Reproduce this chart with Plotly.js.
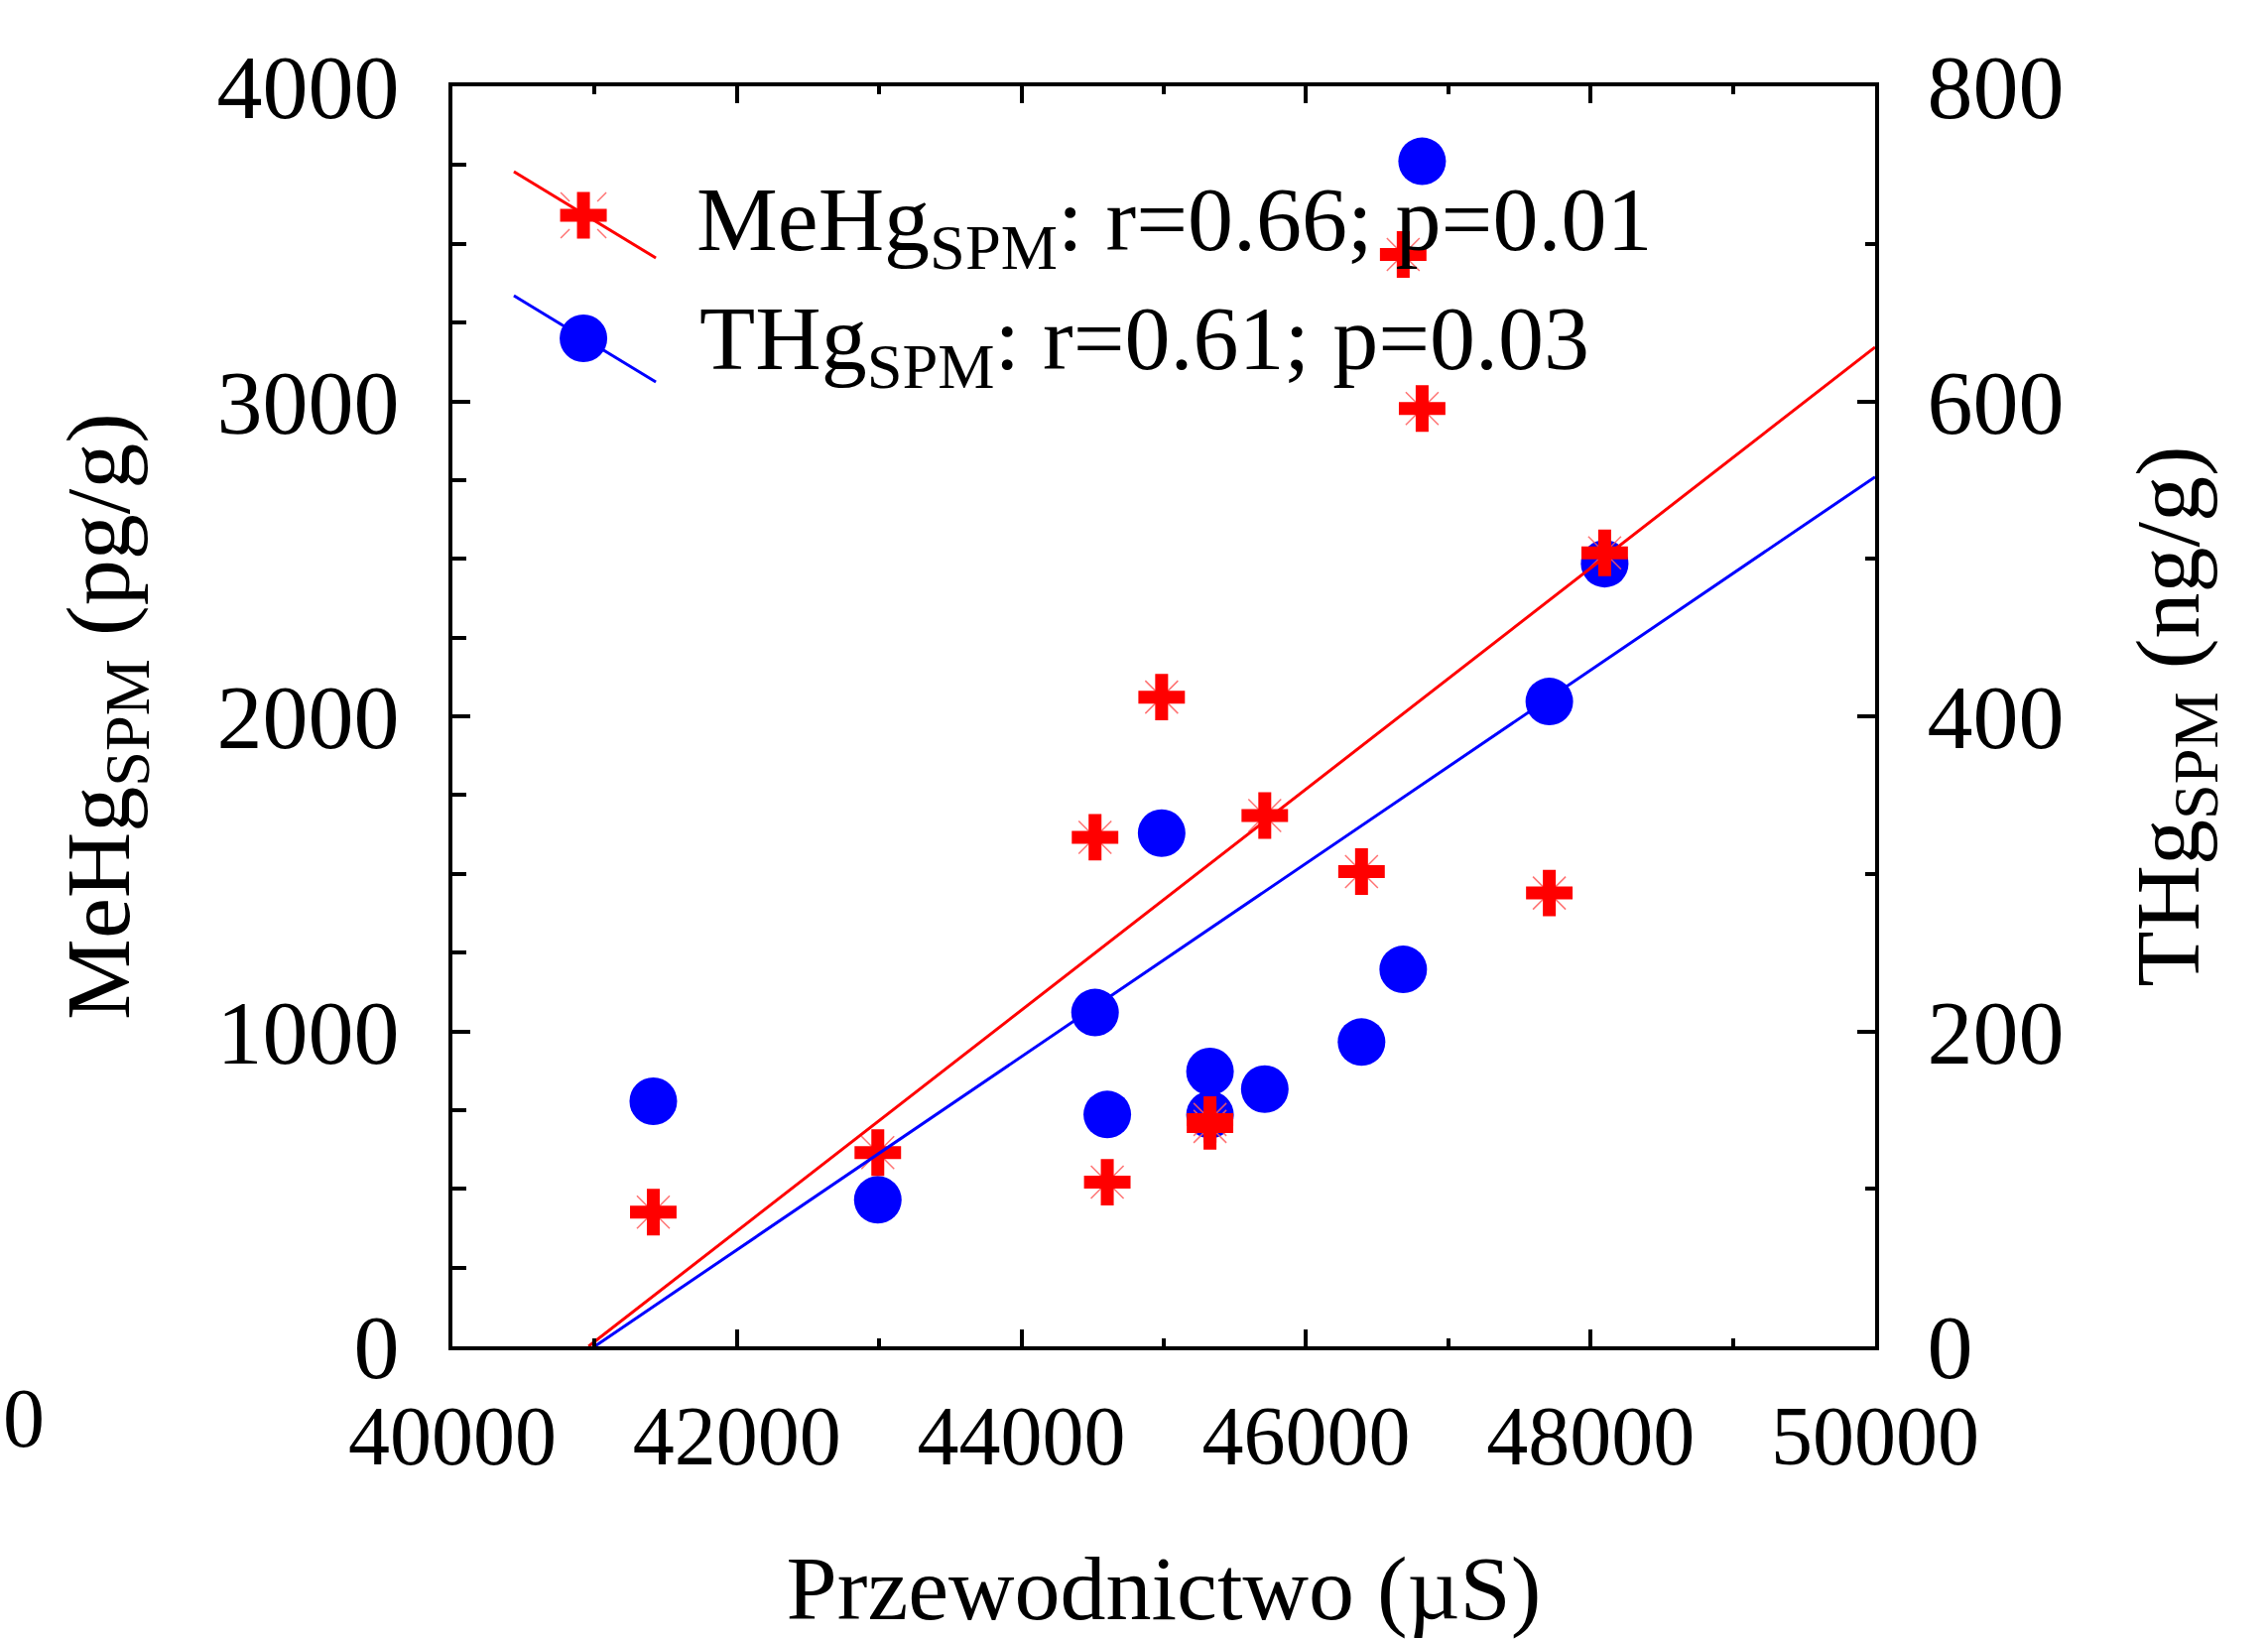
<!DOCTYPE html>
<html>
<head>
<meta charset="utf-8">
<script src="https://cdn.plot.ly/plotly-3.0.1.min.js"></script>
<style>html,body{margin:0;padding:0;background:#fff;}</style>
</head>
<body>
<div id="chart" style="width:2286px;height:1652px;"></div>
<script>
// Conductivity (µS) of each sample
const conductivity = [41412, 42990, 44517, 44603, 44985, 45325, 45325, 45710, 46390, 46683, 46816, 47710, 48099];
// MeHg in SPM (pg/g), left axis
const meHg = [426, 615, 1616, 521, 2061, 720, 698, 1685, 1507, 3466, 2977, 1439, 2519];
// THg in SPM (ng/g), right axis
const tHg = [155.6, 93, 211.9, 147.2, 325.8, 174.5, 147, 163.3, 193.2, 239.3, 752.4, 409.4, 496.9];
// Regression lines (end points)
const meHgFitX = [40957, 50000];
const meHgFitY = [0, 3172];
const tHgFitX = [41001, 50000];
const tHgFitY = [0, 552];
// Tick labels
const xTicks = [40000, 42000, 44000, 46000, 48000, 50000];
const leftTicks = [0, 1000, 2000, 3000, 4000];
const rightTicks = [0, 200, 400, 600, 800];
const legendTexts = ['MeHg<sub>SPM</sub>: r=0.66; p=0.01', 'THg<sub>SPM</sub>: r=0.61; p=0.03'];

const FONT = 'Liberation Serif, Times New Roman, serif';
const RED = '#ff0000', BLUE = '#0000ff', PALE = 'rgba(255,90,90,0.85)';

const traces = [
  { // THg circles (base layer)
    x: conductivity, y: tHg, xaxis: 'x', yaxis: 'y', type: 'scatter', mode: 'markers',
    marker: {symbol: 'circle', size: 48, color: BLUE, line: {width: 0}}, showlegend: false, hoverinfo: 'skip'
  },
  { // MeHg pale diagonal strokes
    x: conductivity, y: meHg, xaxis: 'x', yaxis: 'y2', type: 'scatter', mode: 'markers',
    marker: {symbol: 'x-thin', size: 33, color: PALE, line: {width: 1.5, color: PALE}}, showlegend: false, hoverinfo: 'skip'
  },
  { // MeHg crosses
    x: conductivity, y: meHg, xaxis: 'x', yaxis: 'y2', type: 'scatter', mode: 'markers',
    marker: {symbol: 'cross-thin', size: 33.5, color: RED, line: {width: 13, color: RED}}, showlegend: false, hoverinfo: 'skip'
  },
  { // THg fit line
    x: tHgFitX, y: tHgFitY, xaxis: 'x', yaxis: 'y3', type: 'scatter', mode: 'lines',
    line: {color: BLUE, width: 3}, showlegend: false, hoverinfo: 'skip'
  },
  { // MeHg fit line
    x: meHgFitX, y: meHgFitY, xaxis: 'x', yaxis: 'y4', type: 'scatter', mode: 'lines',
    line: {color: RED, width: 3}, showlegend: false, hoverinfo: 'skip'
  }
];

const xTickFont = {family: FONT, size: 84, color: '#000'};
const yTickFont = {family: FONT, size: 92, color: '#000'};
const titleFont = {family: FONT, size: 92, color: '#000'};

const layout = {
  width: 2286, height: 1652,
  paper_bgcolor: '#fff', plot_bgcolor: '#fff',
  margin: {l: 456, r: 396, t: 87, b: 295, pad: 0},
  showlegend: false,
  xaxis: {
    range: [40000, 50000], tickvals: xTicks, ticktext: xTicks.map(String),
    ticks: 'inside', ticklen: 17, tickwidth: 4, tickcolor: '#000',
    showline: true, linewidth: 4, linecolor: '#000', mirror: 'ticks',
    showgrid: false, zeroline: false,
    minor: {dtick: 1000, tick0: 40000, ticks: 'inside', ticklen: 8, tickwidth: 4, tickcolor: '#000', showgrid: false},
    tickfont: xTickFont, ticklabelstandoff: 14,
    title: {text: 'Przewodnictwo (µS)', font: titleFont, standoff: 130}
  },
  yaxis: {
    side: 'right', anchor: 'x', range: [0, 800], tickvals: rightTicks, ticktext: rightTicks.map(String),
    ticks: 'inside', ticklen: 18, tickwidth: 4, tickcolor: '#000',
    showline: true, linewidth: 4, linecolor: '#000',
    showgrid: false, zeroline: false,
    minor: {dtick: 100, tick0: 0, ticks: 'inside', ticklen: 10, tickwidth: 4, tickcolor: '#000', showgrid: false},
    tickfont: yTickFont, ticklabelstandoff: 30,
    title: {text: 'THg<sub>SPM</sub> (ng/g)', font: titleFont, standoff: 73}
  },
  yaxis2: {
    overlaying: 'y', side: 'left', anchor: 'x', range: [0, 4000], tickvals: leftTicks, ticktext: leftTicks.map(String),
    ticks: 'inside', ticklen: 18, tickwidth: 4, tickcolor: '#000',
    showline: true, linewidth: 4, linecolor: '#000',
    showgrid: false, zeroline: false,
    minor: {dtick: 250, tick0: 0, ticks: 'inside', ticklen: 14, tickwidth: 4, tickcolor: '#000', showgrid: false},
    tickfont: yTickFont, ticklabelstandoff: 31,
    title: {text: 'MeHg<sub>SPM</sub> (pg/g)', font: titleFont, standoff: 58}
  },
  yaxis3: {overlaying: 'y', range: [0, 800], visible: false},
  yaxis4: {overlaying: 'y', range: [0, 4000], visible: false},
  shapes: [
    // legend glyph: MeHg
    {type: 'line', xref: 'paper', yref: 'paper', x0: 0.0432, y0: 0.9323, x1: 0.143, y1: 0.8638, line: {color: RED, width: 3}},
    {type: 'path', xref: 'paper', yref: 'paper', xsizemode: 'pixel', ysizemode: 'pixel', xanchor: 0.0921, yanchor: 0.8976,
     path: 'M -23,-23 L -14,-14 M 14,14 L 23,23 M -23,23 L -14,14 M 14,-14 L 23,-23', line: {color: PALE, width: 1.5}},
    {type: 'path', xref: 'paper', yref: 'paper', xsizemode: 'pixel', ysizemode: 'pixel', xanchor: 0.0921, yanchor: 0.8976,
     path: 'M -6.5,-23.5 H 6.5 V -6.5 H 23.5 V 6.5 H 6.5 V 23.5 H -6.5 V 6.5 H -23.5 V -6.5 H -6.5 Z', fillcolor: RED, line: {width: 0}},
    // legend glyph: THg
    {type: 'line', xref: 'paper', yref: 'paper', x0: 0.0432, y0: 0.8339, x1: 0.143, y1: 0.7654, line: {color: BLUE, width: 3}},
    {type: 'circle', xref: 'paper', yref: 'paper', xsizemode: 'pixel', ysizemode: 'pixel', xanchor: 0.0921, yanchor: 0.8,
     x0: -24, x1: 24, y0: -24, y1: 24, fillcolor: BLUE, line: {width: 0}}
  ],
  annotations: [
    {text: legendTexts[0], xref: 'paper', yref: 'paper', x: 0.1699, y: 0.889, xanchor: 'left', yanchor: 'middle', showarrow: false, font: titleFont},
    {text: legendTexts[1], xref: 'paper', yref: 'paper', x: 0.172, y: 0.7945, xanchor: 'left', yanchor: 'middle', showarrow: false, font: titleFont},
    {text: '0', xref: 'paper', yref: 'paper', x: -0.3012, y: -0.0567, xanchor: 'center', yanchor: 'middle', showarrow: false, font: xTickFont}
  ]
};

Plotly.newPlot('chart', traces, layout, {staticPlot: true, displayModeBar: false});
</script>
</body>
</html>
